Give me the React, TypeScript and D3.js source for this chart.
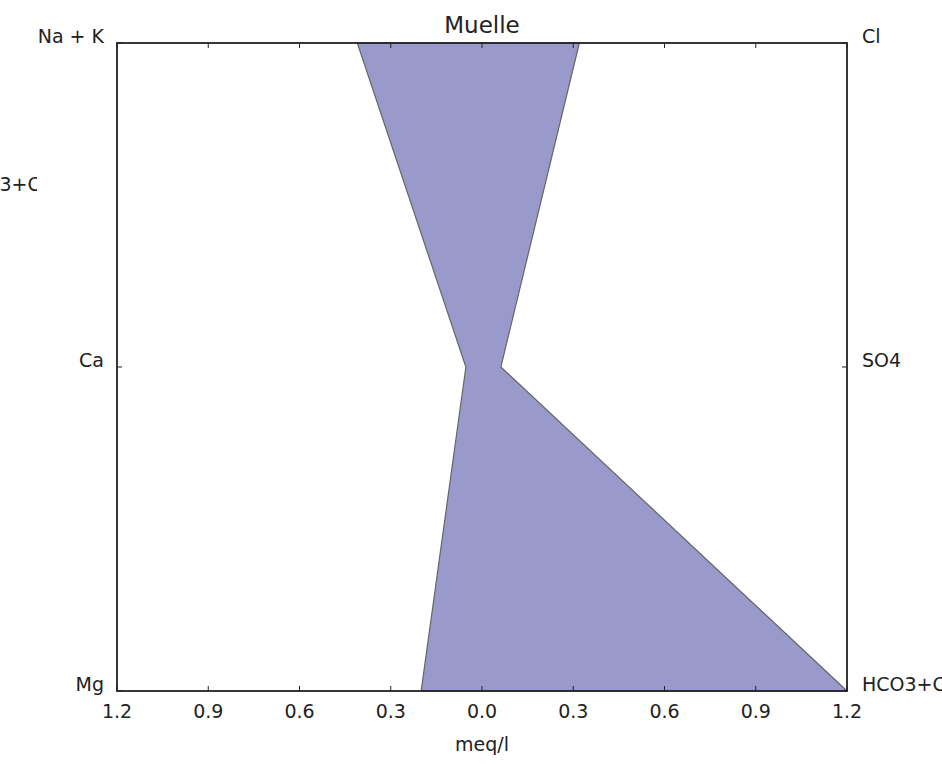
import React, { useEffect, useRef } from 'react';
import * as d3 from 'd3';

// cations on the left, anions on the right (meq/l)
const cations = ['Na + K', 'Ca', 'Mg'];
const anions = ['Cl', 'SO4', 'HCO3+CO3'];
const cationValues = [0.41, 0.053, 0.2];
const anionValues = [0.32, 0.062, 1.2];
const xTicks = [-1.2, -0.9, -0.6, -0.3, 0, 0.3, 0.6, 0.9, 1.2];
const title = 'Muelle';

const App = () => {
  const svgRef = useRef(null);

  useEffect(() => {
    const svg = d3.select(svgRef.current);
    svg.selectAll('*').remove();
    const width = 942;
    const height = 764;
    const margin = { top: 43, right: 95, bottom: 73, left: 117 };
    const innerWidth = width - margin.left - margin.right;
    const innerHeight = height - margin.top - margin.bottom;
    const font = 'DejaVu Sans, sans-serif';
    const fs = 19;

    const x = d3.scaleLinear().domain([-1.2, 1.2]).range([0, innerWidth]);
    const y = d3.scalePoint().domain(d3.range(cations.length).map(String)).range([0, innerHeight]);

    const g = svg.append('g').attr('transform', `translate(${margin.left},${margin.top})`);

    // polygon: down the left side then back up the right side
    const pts = [];
    cationValues.forEach((v, i) => pts.push([x(-v), y(String(i))]));
    for (let i = anionValues.length - 1; i >= 0; i--) pts.push([x(anionValues[i]), y(String(i))]);

    g.append('path')
      .attr('d', d3.line()(pts) + 'Z')
      .attr('fill', '#9999cc')
      .attr('stroke', '#666')
      .attr('stroke-width', 1.2);

    // frame
    g.append('rect')
      .attr('width', innerWidth)
      .attr('height', innerHeight)
      .attr('fill', 'none')
      .attr('stroke', '#222')
      .attr('stroke-width', 1.8);

    // inward ticks
    const tickLen = 5;
    xTicks.forEach(t => {
      g.append('line').attr('x1', x(t)).attr('x2', x(t)).attr('y1', innerHeight).attr('y2', innerHeight - tickLen)
        .attr('stroke', '#222');
      g.append('line').attr('x1', x(t)).attr('x2', x(t)).attr('y1', 0).attr('y2', tickLen)
        .attr('stroke', '#222');
      g.append('text')
        .attr('x', x(t))
        .attr('y', innerHeight + 27)
        .attr('text-anchor', 'middle')
        .attr('font-family', font)
        .attr('font-size', fs)
        .attr('fill', '#222')
        .text(Math.abs(t).toFixed(1));
    });

    y.domain().forEach(k => {
      g.append('line').attr('x1', 0).attr('x2', tickLen).attr('y1', y(k)).attr('y2', y(k)).attr('stroke', '#222');
      g.append('line').attr('x1', innerWidth).attr('x2', innerWidth - tickLen).attr('y1', y(k)).attr('y2', y(k))
        .attr('stroke', '#222');
    });

    // category labels
    cations.forEach((c, i) => {
      g.append('text')
        .attr('x', -13)
        .attr('y', y(String(i)))
        .attr('text-anchor', 'end')
        .attr('font-family', font)
        .attr('font-size', fs)
        .attr('fill', '#222')
        .text(c);
    });
    anions.forEach((c, i) => {
      g.append('text')
        .attr('x', innerWidth + 15)
        .attr('y', y(String(i)))
        .attr('text-anchor', 'start')
        .attr('font-family', font)
        .attr('font-size', fs)
        .attr('fill', '#222')
        .text(c);
    });

    // stray clipped label on the far left
    svg.append('clipPath').attr('id', 'leftclip')
      .append('rect').attr('x', 0).attr('y', 150).attr('width', 37).attr('height', 60);
    svg.append('text')
      .attr('x', -43)
      .attr('y', 191)
      .attr('clip-path', 'url(#leftclip)')
      .attr('font-family', font)
      .attr('font-size', fs)
      .attr('fill', '#222')
      .text(anions[2]);

    // title and axis label
    svg.append('text')
      .attr('x', margin.left + innerWidth / 2)
      .attr('y', 33)
      .attr('text-anchor', 'middle')
      .attr('font-family', font)
      .attr('font-size', 23)
      .attr('fill', '#222')
      .text(title);

    svg.append('text')
      .attr('x', margin.left + innerWidth / 2)
      .attr('y', 751)
      .attr('text-anchor', 'middle')
      .attr('font-family', font)
      .attr('font-size', fs)
      .attr('fill', '#222')
      .text('meq/l');
  }, []);

  return (
    <svg
      ref={svgRef}
      width={942}
      height={764}
      style={{ position: 'absolute', left: 0, top: 0, background: '#fff' }}
    ></svg>
  );
};

export default App;
